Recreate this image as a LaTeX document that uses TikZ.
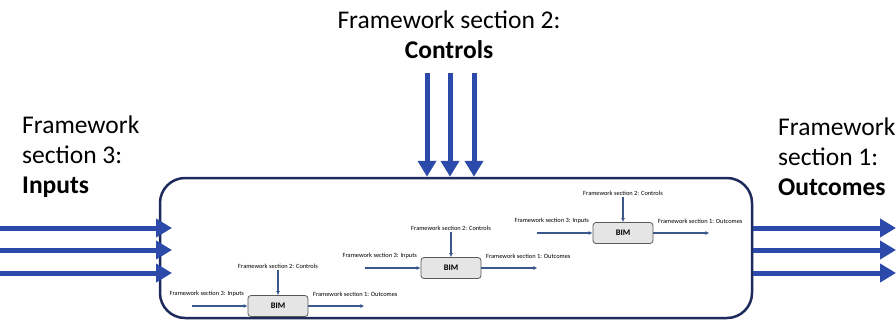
\documentclass[tikz,border=0pt]{standalone}
\usepackage{fontspec}
\setmainfont{Carlito}
\usetikzlibrary{arrows.meta,positioning}
\definecolor{arrowBlue}{RGB}{44,74,170}
\definecolor{frameNavy}{RGB}{28,42,92}
\definecolor{miniBlue}{RGB}{58,88,140}

\begin{document}
\begin{tikzpicture}
[x=1pt,y=-1pt,
  bigArrow/.style={-{Triangle[length=16pt,width=18pt]},line width=5pt,draw=arrowBlue},
  smallArrow/.style={-{Latex[length=4pt,width=4pt]},line width=1.1pt,draw=miniBlue},
  bimBox/.style={draw=gray!70!black,fill=gray!20,rounded corners=3pt,minimum width=60pt,
    minimum height=21pt,font=\fontsize{8.5}{9}\selectfont\bfseries,line width=0.8pt},
  tinyLabel/.style={font=\fontsize{6.4}{7}\selectfont,inner sep=0.5pt},
  bigLabel/.style={font=\fontsize{25.5}{30}\selectfont,inner sep=0pt}]
\useasboundingbox (0,0) rectangle (896,324);
%% frame and section labels
\node (frame) [draw=frameNavy,line width=2.5pt,rounded corners=25pt,
  minimum width=592pt,minimum height=140pt] at (456,248) {};
\node (ctlText) [bigLabel,align=center] at (449,35) {Framework section 2:\\\textbf{Controls}};
\node (inpText) [bigLabel,align=left,anchor=west] at (22,157) {Framework\\section 3:\\\textbf{Inputs}};
\node (outText) [bigLabel,align=left,anchor=west] at (778,157) {Framework\\section 1:\\\textbf{Outcomes}};
%% big arrows
\foreach \i/\x in {1/427,2/450,3/474}
{
  \coordinate (ctlTop\i) at (\x,73);
  \draw[bigArrow] (ctlTop\i) -- (ctlTop\i |- frame.north);
}
\foreach \i/\y in {1/228,2/250,3/273}
{
  \coordinate (inpStart\i) at (0,\y);
  \coordinate (inpEnd\i) at (172,\y);
  \coordinate (outEnd\i) at (896,\y);
  \draw[bigArrow] (inpStart\i) -- (inpEnd\i);
  \draw[bigArrow] (frame.east |- inpStart\i) -- (outEnd\i);
}
%% small diagrams inside the frame
\foreach \n/\x/\y in {1/278/306, 2/451/268, 3/623/233}
{
  \node (bim\n) [bimBox] at (\x,\y) {BIM};
  \coordinate (ctl\n) at ([yshift=25pt]bim\n.north);
  \coordinate (inp\n) at ([xshift=-56pt]bim\n.west);
  \coordinate (out\n) at ([xshift=56pt]bim\n.east);
  \draw[smallArrow] (ctl\n) -- (bim\n.north);
  \draw[smallArrow] (inp\n) -- (bim\n.west);
  \draw[smallArrow] (bim\n.east) -- (out\n);
  \node (ctlLab\n) [tinyLabel,above=1pt of ctl\n] {Framework section 2: Controls};
  \node (inpLab\n) [tinyLabel,anchor=south east] at ([xshift=-3pt,yshift=9pt]bim\n.west) {Framework section 3: Inputs};
  \node (outLab\n) [tinyLabel,anchor=south west] at ([xshift=4pt,yshift=9pt]bim\n.east) {Framework section 1: Outcomes};
}
\end{tikzpicture}
\end{document}
